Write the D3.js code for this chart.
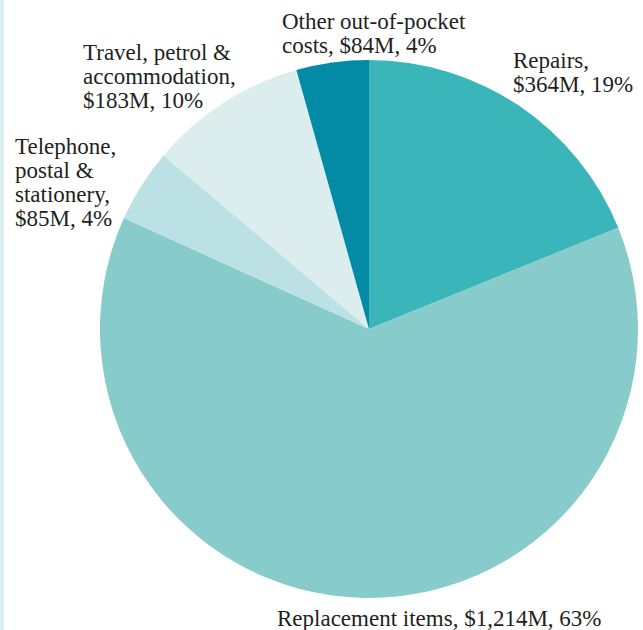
<!DOCTYPE html>
<html>
<head>
<meta charset="utf-8">
<script src="https://cdn.jsdelivr.net/npm/d3@7"></script>
<style>
  html, body { margin: 0; padding: 0; background: #fff; }
  svg { display: block; }
</style>
</head>
<body>
<div id="chart"></div>
<script>
///
/// Data
///
const categories = ["Repairs", "Replacement items", "Telephone, postal & stationery", "Travel, petrol & accommodation", "Other out-of-pocket costs"];
const values = [364, 1214, 85, 183, 84];          // $M
const percents = [19, 63, 4, 10, 4];
const colours = ["#3ab5ba", "#87cbca", "#bce1e5", "#dcedee", "#038aa5"];

// label text broken into lines as in the reference
const labelLines = [
  ["Repairs,", "$364M, 19%"],
  ["Replacement items, $1,214M, 63%"],
  ["Telephone,", "postal &", "stationery,", "$85M, 4%"],
  ["Travel, petrol &", "accommodation,", "$183M, 10%"],
  ["Other out-of-pocket", "costs, $84M, 4%"]
];
// where each label block sits (left x, first baseline)
const labelPos = [[513, 68], [277, 626], [15, 154], [83, 60], [282, 29]];

///
/// Setup
///
const width = 643, height = 630;
const cx = 369, cy = 329, radius = 269;

const svg = d3.select("#chart").append("svg")
  .attr("width", width)
  .attr("height", height);

// pale stripe down the left edge
svg.append("rect")
  .attr("x", 0).attr("y", 0)
  .attr("width", 4).attr("height", height)
  .attr("fill", "#dceeef");

const pie = d3.pie().sort(null).value(d => d);
const arc = d3.arc().innerRadius(0).outerRadius(radius);

const g = svg.append("g").attr("transform", `translate(${cx},${cy})`);

g.selectAll("path")
  .data(pie(values))
  .join("path")
  .attr("d", arc)
  .attr("fill", (d, i) => colours[i]);

///
/// Labels
///
const labels = svg.append("g")
  .attr("font-family", "'Liberation Serif', 'DejaVu Serif', serif")
  .attr("font-size", 23)
  .attr("fill", "#231f20");

labelLines.forEach((lines, i) => {
  const t = labels.append("text")
    .attr("x", labelPos[i][0])
    .attr("y", labelPos[i][1]);
  lines.forEach((ln, j) => {
    t.append("tspan")
      .attr("x", labelPos[i][0])
      .attr("dy", j == 0 ? 0 : 24)
      .text(ln);
  });
});
</script>
</body>
</html>
